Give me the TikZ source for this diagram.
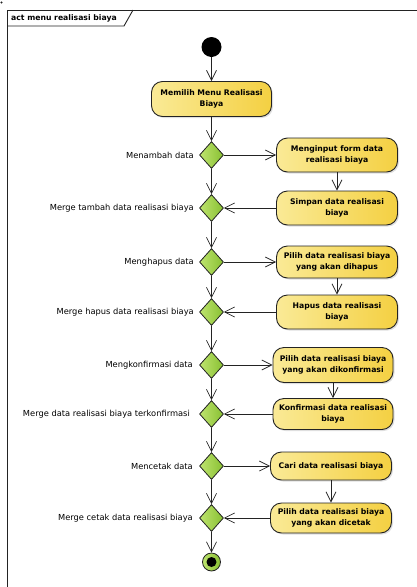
\documentclass[tikz,border=0pt]{standalone}
\usepackage{fontspec}
\newfontfamily\dv{DejaVu Sans}
\usetikzlibrary{arrows.meta,shapes.geometric,shadows}
\definecolor{boxL}{RGB}{250,234,150}
\definecolor{boxR}{RGB}{244,208,66}
\definecolor{grL}{RGB}{190,228,110}
\definecolor{grR}{RGB}{136,192,50}
\definecolor{ln}{RGB}{35,35,35}
\begin{document}
\begin{tikzpicture}[x=1pt,y=-1pt,
  act/.style={draw=ln, line width=0.9pt, rounded corners=11pt, left color=boxL, right color=boxR,
    minimum width=121pt, minimum height=33pt, align=center, inner sep=1pt,
    font=\dv\bfseries\fontsize{7.7}{11.5}\selectfont,
    drop shadow={shadow xshift=1.5pt, shadow yshift=-1.5pt, opacity=0.25}},
  dec/.style={diamond, draw=ln, line width=0.8pt, left color=grL, right color=grR,
    minimum width=24pt, minimum height=27pt, inner sep=0pt},
  lbl/.style={anchor=east, inner sep=0pt, font=\dv\fontsize{8.3}{10}\selectfont},
  arr/.style={draw=ln, line width=0.7pt, -{Straight Barb[length=10pt,width=10pt,line width=0.7pt]}},
  frm/.style={draw=ln, line width=0.9pt}
]
\useasboundingbox (0,0) rectangle (417,587);
% frame
\fill[ln] (1.5,2.5) circle (1.2);
\draw[frm] (7,587) -- (7,10) -- (417,10);
\draw[frm] (7,26) -- (124,26) -- (133,10);
\node[anchor=west, inner sep=0pt, font=\dv\bfseries\fontsize{7.7}{9}\selectfont] (title) at (11,18) {act menu realisasi biaya};

% nodes
\node[circle, fill=black, minimum size=20pt, inner sep=0pt] (start) at (211.5,47) {};
\node[act, minimum width=120pt, minimum height=35pt] (a1) at (211.5,99) {Memilih Menu Realisasi\\Biaya};

\node[dec] (d1) at (211.5,155) {};
\node[act, minimum height=34pt] (a2) at (337,155) {Menginput form data\\realisasi biaya};
\node[act, minimum height=34pt] (a3) at (337,208) {Simpan data realisasi\\biaya};
\node[dec] (m1) at (211.5,208) {};

\node[dec] (d2) at (211.5,262) {};
\node[act, minimum height=32pt] (a4) at (337,262) {Pilih data realisasi biaya\\yang akan dihapus};
\node[act, minimum height=34pt] (a5) at (337,312) {Hapus data realisasi\\biaya};
\node[dec] (m2) at (211.5,312) {};

\node[dec] (d3) at (211.5,365) {};
\node[act, minimum width=120pt, minimum height=35pt] (a6) at (333,365) {Pilih data realisasi biaya\\yang akan dikonfirmasi};
\node[act, minimum width=120pt, minimum height=31pt] (a7) at (333,414) {Konfirmasi data realisasi\\biaya};
\node[dec] (m3) at (211.5,414) {};

\node[dec] (d4) at (211.5,466) {};
\node[act, minimum height=28pt] (a8) at (331,466) {Cari data realisasi biaya};
\node[act, minimum height=30pt] (a9) at (331,518) {Pilih data realisasi biaya\\yang akan dicetak};
\node[dec] (m4) at (211.5,518) {};

\node[circle, draw=ln, line width=0.8pt, left color=grL, right color=grR, minimum size=18pt, inner sep=0pt] (end) at (211.5,562) {};
\node[circle, fill=black, minimum size=10pt, inner sep=0pt] (endin) at (end.center) {};

% labels
\node[lbl] (l1) at (194,155) {Menambah data};
\node[lbl] (l2) at (194,208) {Merge tambah data realisasi biaya};
\node[lbl] (l3) at (194,262) {Menghapus data};
\node[lbl] (l4) at (194,312) {Merge hapus data realisasi biaya};
\node[lbl] (l5) at (193,365) {Mengkonfirmasi data};
\node[lbl] (l6) at (190,414) {Merge data realisasi biaya terkonfirmasi};
\node[lbl] (l7) at (193,466) {Mencetak data};
\node[lbl] (l8) at (193,518) {Merge cetak data realisasi biaya};

% connectors
\draw[arr] (start) -- (a1);
\draw[arr] (a1) -- (d1);
\draw[arr] (d1) -- (a2);
\draw[arr] (a2) -- (a3);
\draw[arr] (a3) -- (m1);
\draw[arr] (d1) -- (m1);
\draw[arr] (m1) -- (d2);
\draw[arr] (d2) -- (a4);
\draw[arr] (a4) -- (a5);
\draw[arr] (a5) -- (m2);
\draw[arr] (d2) -- (m2);
\draw[arr] (m2) -- (d3);
\draw[arr] (d3) -- (a6);
\draw[arr] (a6) -- (a7);
\draw[arr] (a7) -- (m3);
\draw[arr] (d3) -- (m3);
\draw[arr] (m3) -- (d4);
\draw[arr] (d4) -- (a8);
\draw[arr] (a8) -- (a9);
\draw[arr] (a9) -- (m4);
\draw[arr] (d4) -- (m4);
\draw[arr] (m4) -- (end);
\end{tikzpicture}
\end{document}
